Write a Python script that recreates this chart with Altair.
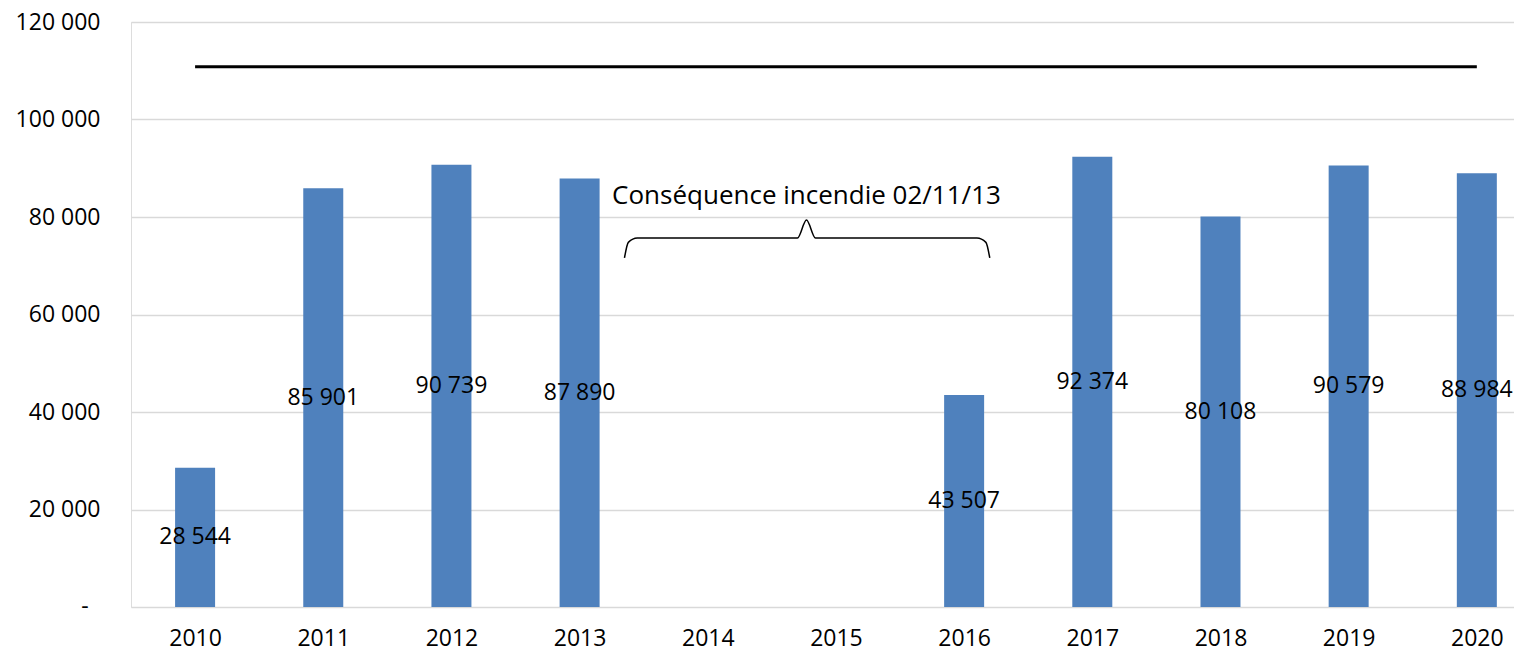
import altair as alt
import pandas as pd

years = [2010, 2011, 2012, 2013, 2014, 2015, 2016, 2017, 2018, 2019, 2020]
values = [28544, 85901, 90739, 87890, None, None, 43507, 92374, 80108, 90579, 88984]

ref_line_x = [2010, 2020]
ref_line_y = [110800, 110800]

brace_x = [2013.35, 2013.38, 2013.45, 2014.70, 2014.77, 2014.84, 2016.10, 2016.17, 2016.20]
brace_y = [71600, 74800, 75700, 75700, 79400, 75700, 75700, 74800, 71600]
brace_order = list(range(len(brace_x)))

annot_text = ["Conséquence incendie 02/11/13"]
annot_x = [2014.77]
annot_y = [84300]

zero_label = ["-"]
zero_value = [0]

FONT = "Open Sans"
BLUE = "#4F81BD"

df = pd.DataFrame({"year": years, "value": values})
df_bars = df.dropna().copy()
df_bars["label"] = df_bars["value"].apply(lambda v: f"{int(v):,}".replace(",", " "))
df_bars["mid"] = df_bars["value"] / 2

xscale = alt.Scale(domain=[2009.5, 2020.29], nice=False, zero=False, padding=0)
yscale = alt.Scale(domain=[0, 120000], nice=False)

x_axis = alt.Axis(values=years, format="d", grid=False, ticks=False, domain=False,
                  labelFont=FONT, labelFontSize=23, labelColor="#000000",
                  labelPadding=20, title=None)
y_axis = alt.Axis(values=[0, 20000, 40000, 60000, 80000, 100000, 120000],
                  labelExpr="datum.value == 0 ? '' : format(datum.value/1000, 'd') + ' 000'",
                  grid=True, gridColor="#d9d9d9", gridWidth=1.5, ticks=False, domain=False,
                  labelFont=FONT, labelFontSize=23, labelColor="#000000",
                  labelPadding=31, title=None)

bars = alt.Chart(df_bars).mark_bar(color=BLUE, size=40).encode(
    x=alt.X("year:Q", scale=xscale, axis=x_axis),
    y=alt.Y("value:Q", scale=yscale, axis=y_axis),
)

labels = alt.Chart(df_bars).mark_text(font=FONT, fontSize=23, color="#000000", baseline="middle").encode(
    x=alt.X("year:Q", scale=xscale),
    y=alt.Y("mid:Q", scale=yscale),
    text="label:N",
)

df_zero = pd.DataFrame({"v": zero_value, "t": zero_label})
zero_txt = alt.Chart(df_zero).mark_text(font=FONT, fontSize=23, color="#000000",
                                        baseline="middle", align="center").encode(
    x=alt.value(-46),
    y=alt.Y("v:Q", scale=yscale),
    text="t:N",
)

df_line = pd.DataFrame({"x": ref_line_x, "y": ref_line_y})
ref_line = alt.Chart(df_line).mark_line(color="#000000", strokeWidth=3).encode(
    x=alt.X("x:Q", scale=xscale),
    y=alt.Y("y:Q", scale=yscale),
)

df_brace = pd.DataFrame({"x": brace_x, "y": brace_y, "o": brace_order})
brace = alt.Chart(df_brace).mark_line(color="#000000", strokeWidth=1.5, interpolate="monotone").encode(
    x=alt.X("x:Q", scale=xscale),
    y=alt.Y("y:Q", scale=yscale),
    order="o:Q",
)

df_annot = pd.DataFrame({"x": annot_x, "y": annot_y, "t": annot_text})
annot = alt.Chart(df_annot).mark_text(font=FONT, fontSize=26, color="#000000", baseline="middle").encode(
    x=alt.X("x:Q", scale=xscale),
    y=alt.Y("y:Q", scale=yscale),
    text="t:N",
)

chart = alt.layer(bars, labels, zero_txt, ref_line, brace, annot).properties(
    width=1383, height=585,
    autosize=alt.AutoSizeParams(type="none"),
    padding={"left": 123, "top": 14, "right": 0, "bottom": 44},
).configure_view(strokeWidth=0).configure(background="#ffffff")

chart.save("out.html", embed_options={"renderer": "svg", "actions": False})
